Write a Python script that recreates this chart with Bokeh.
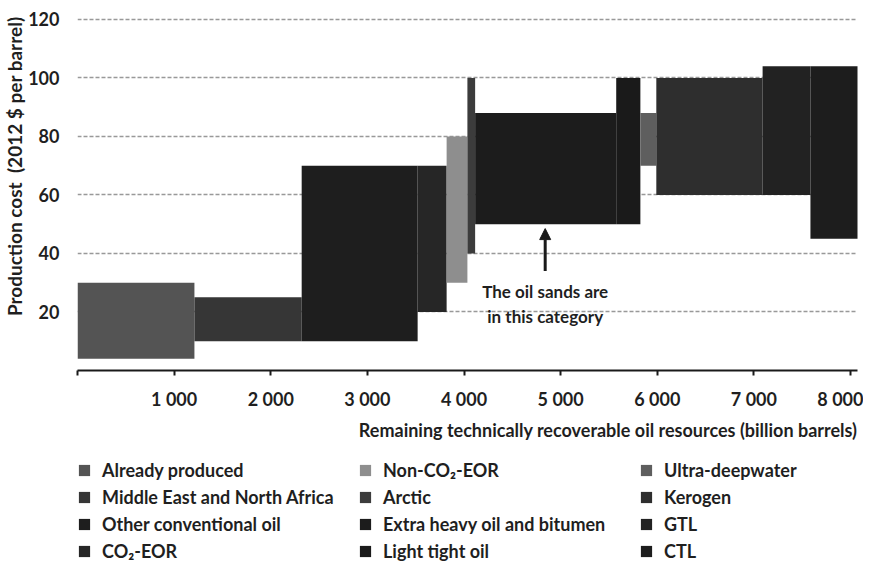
from bokeh.plotting import figure
from bokeh.layouts import column
from bokeh.models import (Range1d, FixedTicker, Legend, LegendItem, Title, Arrow,
                          NormalHead, ColumnDataSource)
from bokeh.core.properties import value
from bokeh.embed import file_html
from bokeh.resources import INLINE
import numpy as np

# ---------------- data ----------------
categories = ["Already produced", "Middle East and North Africa", "Other conventional oil",
              "CO\u2082-EOR", "Non-CO\u2082-EOR", "Arctic", "Extra heavy oil and bitumen",
              "Light tight oil", "Ultra-deepwater", "Kerogen", "GTL", "CTL"]
volumes = [1210, 1110, 1200, 300, 215, 80, 1460, 250, 165, 1100, 495, 505]   # billion barrels
cost_low = [4, 10, 10, 20, 30, 40, 50, 50, 70, 60, 60, 45]                  # 2012 $ per barrel
cost_high = [30, 25, 70, 70, 80, 100, 88, 100, 88, 100, 104, 104]
colors = ["#545454", "#363636", "#1e1e1e", "#262626", "#8e8e8e", "#3c3c3c",
          "#1c1c1c", "#1a1a1a", "#5e5e5e", "#2e2e2e", "#222222", "#1d1d1d"]

x_ticks = [0, 1000, 2000, 3000, 4000, 5000, 6000, 7000, 8000]
x_tick_labels = ["", "1 000", "2 000", "3 000", "4 000", "5 000", "6 000", "7 000", "8 000"]
y_ticks = [20, 40, 60, 80, 100, 120]

note_lines = ["The oil sands are", "in this category"]

FONT = "Lato"
TEXT = "#1f1f1f"

right = np.cumsum(volumes)
left = right - np.array(volumes)

p = figure(width=863, height=450, output_backend="svg", toolbar_location=None,
           x_range=Range1d(0, 8072), y_range=Range1d(0, 121),
           min_border_left=72, min_border_top=16, min_border_right=6,
           min_border_bottom=80)
p.outline_line_color = None
p.background_fill_color = "white"

# grid
p.xgrid.visible = False
p.ygrid.ticker = FixedTicker(ticks=y_ticks)
p.ygrid.grid_line_color = "#999999"
p.ygrid.grid_line_width = 1.7
p.ygrid.grid_line_dash = "4 2"

# bars
sources = []
for i in range(len(categories)):
    src = ColumnDataSource(dict(left=[left[i]], right=[right[i]],
                                bottom=[cost_low[i]], top=[cost_high[i]]))
    sources.append(src)
    p.quad(left="left", right="right", bottom="bottom", top="top", source=src,
           fill_color=colors[i], line_color=None)

# axes
xa = p.xaxis[0]
xa.ticker = FixedTicker(ticks=x_ticks)
xa.major_label_overrides = {t: l for t, l in zip(x_ticks, x_tick_labels)}
xa.axis_line_color = "#1a1a1a"
xa.axis_line_width = 2
xa.major_tick_line_color = "#1a1a1a"
xa.major_tick_line_width = 2
xa.major_tick_in = 0
xa.major_tick_out = 5
xa.minor_tick_line_color = None
xa.major_label_standoff = 12
xa.major_label_text_font = FONT
xa.major_label_text_font_size = "18px"
xa.major_label_text_font_style = "bold"
xa.major_label_text_color = TEXT

ya = p.yaxis[0]
ya.ticker = FixedTicker(ticks=y_ticks)
ya.axis_line_color = None
ya.major_tick_line_color = None
ya.minor_tick_line_color = None
ya.major_label_standoff = 12
ya.axis_label_standoff = 0
ya.major_label_text_font = FONT
ya.major_label_text_font_size = "18px"
ya.major_label_text_font_style = "bold"
ya.major_label_text_color = TEXT

# axis titles
p.add_layout(Title(text="Remaining technically recoverable oil resources (billion barrels)",
                   align="right", text_font=FONT, text_font_size="18px",
                   text_font_style="bold", text_color=TEXT, standoff=8), "below")
p.add_layout(Title(text="Production cost\u00a0\u00a0(2012 $ per barrel)",
                   align="right", text_font=FONT, text_font_size="19px",
                   text_font_style="bold", text_color=TEXT, standoff=0), "left")

# annotation
p.add_layout(Arrow(end=NormalHead(size=11, fill_color="#1a1a1a", line_color="#1a1a1a"),
                   x_start=4840, y_start=34, x_end=4840, y_end=48.5,
                   line_color="#1a1a1a", line_width=3))
p.text(x=[4840, 4840], y=[27, 18.5], text=note_lines, text_align="center",
       text_baseline="middle", text_font=value(FONT), text_font_size="17px",
       text_font_style="bold", text_color=TEXT)

# legend figure (the same quads, out of view, serve as legend glyphs)
lf = figure(width=863, height=113, output_backend="svg", toolbar_location=None,
            x_range=Range1d(-2, -1), y_range=Range1d(-2, -1),
            x_axis_location=None, y_axis_location=None,
            min_border=0, min_border_left=0, min_border_right=0,
            min_border_top=0, min_border_bottom=0)
lf.grid.visible = False
lf.outline_line_color = None
items = []
for i, cat in enumerate(categories):
    r = lf.quad(left="left", right="right", bottom="bottom", top="top", source=sources[i],
                fill_color=colors[i], line_color=None)
    items.append(LegendItem(label=cat, renderers=[r]))

legend = Legend(items=items, orientation="vertical", nrows=4, location=(0, 1),
                margin=0, padding=0, spacing=5, glyph_width=14, glyph_height=14,
                label_height=20, label_width=251, label_standoff=11,
                border_line_color=None, background_fill_alpha=0, label_text_font=FONT,
                label_text_font_size="18px", label_text_font_style="bold",
                label_text_color=TEXT)
lf.add_layout(legend, "center")

open("out.html", "w").write(file_html(column(p, lf, spacing=0), INLINE))
